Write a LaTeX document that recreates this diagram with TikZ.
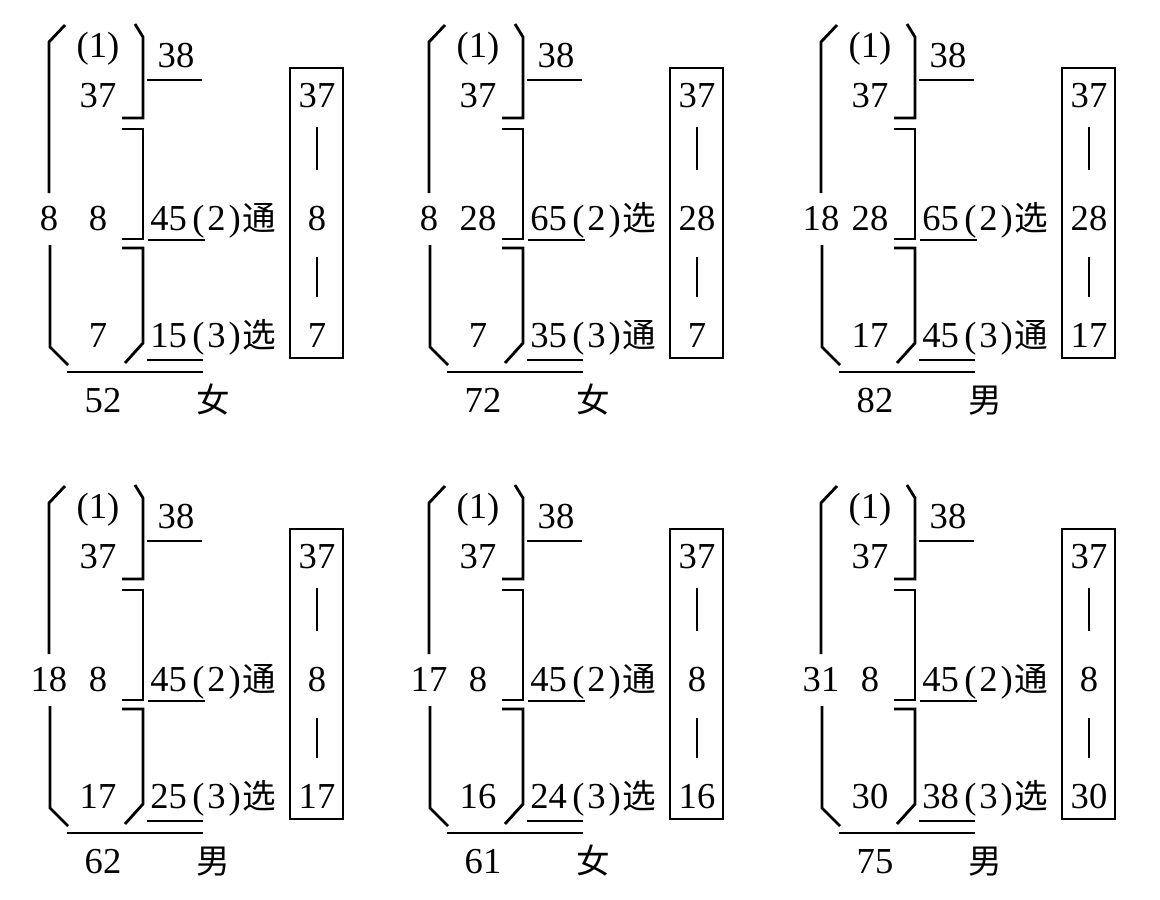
\documentclass[tikz,border=0pt]{standalone}
\usepackage{fontspec}
\setmainfont{Liberation Serif}
\newfontfamily\cjk[Scale=0.92]{Noto Sans CJK SC}
\usetikzlibrary{calc}
\tikzset{
    numtext/.style={inner sep=0pt, anchor=base, font=\fontsize{26pt}{30pt}\selectfont}, % numbers, placed on their baseline
    rowtext/.style={numtext, anchor=base west},
    bracketline/.style={line width=2pt, line join=miter},
    sumline/.style={line width=2pt},
    chainbox/.style={draw, line width=2pt, minimum width=1.325cm, minimum height=7.25cm, inner sep=0pt},
    chainbar/.style={line width=2pt}
}
\newcommand{\paren}[1]{(\hspace{2pt}#1\hspace{2pt})}

\begin{document}
\begin{tikzpicture}[x=0.025cm, y=-0.025cm]
    \useasboundingbox (0,0) rectangle (1160,900);
    % one panel per entry: shift / left / middle / low / row 2 / row 3 / total / sex
    \foreach \dx/\dy/\lft/\mdl/\low/\na/\wa/\nb/\wb/\tot/\sex [count=\k] in {
        0/0/8/8/7/45/通/15/选/52/女,
        380/0/8/28/7/65/选/35/通/72/女,
        772/0/18/28/17/65/选/45/通/82/男,
        0/461/18/8/17/45/通/25/选/62/男,
        380/461/17/8/16/45/通/24/选/61/女,
        772/461/31/8/30/45/通/38/选/75/男}
    {
    \begin{scope}[shift={(\dx,\dy)}]
        % brackets
        \draw[bracketline] (65,25) -- (49,42) -- (49,193);
        \draw[bracketline] (50,245) -- (50,347) -- (68,365);
        \draw[bracketline] (135,24) -- (143,37) -- (143,118) -- (122,118);
        \draw[bracketline] (122,129) -- (143,129) -- (143,239) -- (122,239);
        \draw[bracketline] (122,248) -- (143,248) -- (143,343) -- (125,363);

        \node[numtext] (one\k) at (98,57.4) {(1)};
        \node[numtext] (top\k) at (98,107.4) {37};
        \node[numtext] (mid\k) at (98,230.4) {\mdl};
        \node[numtext] (low\k) at (98,347.4) {\low};
        \node[numtext] (left\k) at (49,230.4) {\lft};
        \node[numtext] (up\k) at (176,67.4) {38};
        \node[rowtext] (rowa\k) at (150,230.4) {\na\hspace{4pt}\paren{2}\hspace{1pt}{\cjk\wa}};
        \node[rowtext] (rowb\k) at (150,347.4) {\nb\hspace{4pt}\paren{3}\hspace{1pt}{\cjk\wb}};
        \node[numtext] (tot\k) at (103,412.4) {\tot};
        \node[numtext] (sex\k) at (213,412.4) {\cjk\sex};

        % underlines
        \draw[sumline] (147,80) -- (202,80);
        \draw[sumline] (148,240) -- (205,240);
        \draw[sumline] (147,360) -- (203,360);
        \draw[sumline] (67,372) -- (203,372);

        % chain box
        \node[chainbox] (box\k) at (316.5,213) {};
        \node[numtext] (ba\k) at (317,107.4) {37};
        \node[numtext] (bb\k) at (317,230.4) {\mdl};
        \node[numtext] (bc\k) at (317,347.4) {\low};
        \draw[chainbar] ($(ba\k)!0.26!(bb\k)$) -- ($(ba\k)!0.61!(bb\k)$);
        \draw[chainbar] ($(bb\k)!0.33!(bc\k)$) -- ($(bb\k)!0.67!(bc\k)$);
    \end{scope}
    }
\end{tikzpicture}
\end{document}
